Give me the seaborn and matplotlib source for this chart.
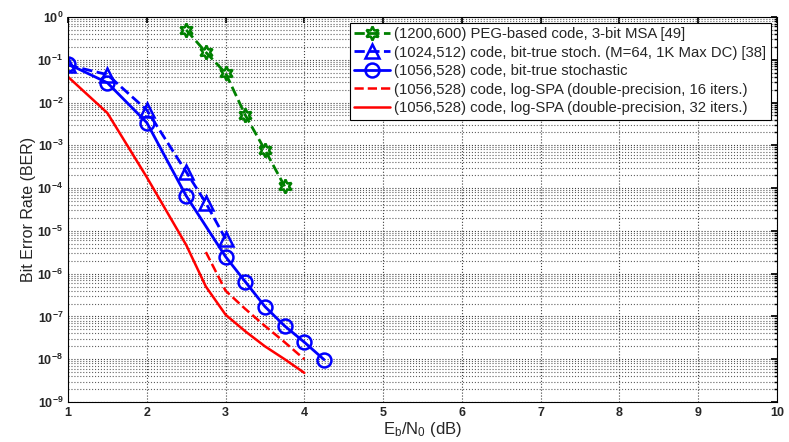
import numpy as np
import pandas as pd
import matplotlib
matplotlib.use("Agg")
import matplotlib.pyplot as plt
import seaborn as sns
from matplotlib.ticker import LogLocator, FixedLocator

# ---- data ----
labels = [
    "(1200,600) PEG-based code, 3-bit MSA [49]",
    "(1024,512) code, bit-true stoch. (M=64, 1K Max DC) [38]",
    "(1056,528) code, bit-true stochastic",
    "(1056,528) code, log-SPA (double-precision, 16 iters.)",
    "(1056,528) code, log-SPA (double-precision, 32 iters.)",
]
peg_x = [2.5, 2.75, 3.0, 3.25, 3.5, 3.75]
peg_y = [0.5, 0.15, 0.049, 5.1e-3, 7.8e-4, 1.1e-4]

tri_x = [1.0, 1.5, 2.0, 2.5, 2.75, 3.0]
tri_y = [0.075, 0.045, 6.7e-3, 2.4e-4, 4.5e-5, 6.5e-6]

circ_x = [1.0, 1.5, 2.0, 2.5, 3.0, 3.25, 3.5, 3.75, 4.0, 4.25]
circ_y = [0.08, 0.029, 3.4e-3, 6.6e-5, 2.5e-6, 6.5e-7, 1.7e-7, 6.0e-8, 2.5e-8, 9.8e-9]

spa16_x = [2.75, 3.0, 3.25, 3.5, 3.75, 4.0]
spa16_y = [3.2e-6, 4.0e-7, 1.5e-7, 6.0e-8, 2.5e-8, 1.0e-8]

spa32_x = [1.0, 1.5, 2.0, 2.5, 2.75, 3.0, 3.25, 3.5, 3.75, 4.0]
spa32_y = [0.04, 5.7e-3, 1.8e-4, 4.7e-6, 5.0e-7, 1.1e-7, 4.5e-8, 2.0e-8, 1.0e-8, 4.8e-9]

xticks = [1, 2, 3, 4, 5, 6, 7, 8, 9, 10]

series = [
    (peg_x, peg_y, dict(color="#008000", ls="--", marker=(6, 1, 0), ms=10, lw=2, mew=1.8)),
    (tri_x, tri_y, dict(color="#0000FF", ls="--", marker="^", ms=10, lw=2, mew=1.8)),
    (circ_x, circ_y, dict(color="#0000FF", ls="-", marker="o", ms=10, lw=2, mew=1.8)),
    (spa16_x, spa16_y, dict(color="#FF0000", ls="--", marker=None, ms=0, lw=1.8, mew=0)),
    (spa32_x, spa32_y, dict(color="#FF0000", ls="-", marker=None, ms=0, lw=1.8, mew=0)),
]

sns.set_theme(style="white")
plt.rcParams["font.family"] = ["Liberation Sans", "DejaVu Sans"]
plt.rcParams["mathtext.fontset"] = "custom"
plt.rcParams["mathtext.rm"] = "Liberation Sans"
plt.rcParams["mathtext.it"] = "Liberation Sans:italic"

fig = plt.figure(figsize=(7.89, 4.42), dpi=100)
ax = fig.add_axes([68 / 789, 1 - 402 / 442, (777 - 68) / 789, (402 - 17) / 442])

for (xs, ys, st), lab in zip(series, labels):
    df = pd.DataFrame({"x": xs, "y": ys})
    sns.lineplot(data=df, x="x", y="y", ax=ax, color=st["color"], linestyle=st["ls"],
                 marker=st["marker"], markersize=st["ms"], linewidth=st["lw"],
                 markeredgewidth=st["mew"], markerfacecolor="none",
                 markeredgecolor=st["color"], label=lab, errorbar=None)

ax.set_yscale("log")
ax.set_xlim(1, 10)
ax.set_ylim(1e-9, 1)
ax.xaxis.set_major_locator(FixedLocator(xticks))
ax.yaxis.set_major_locator(FixedLocator([10.0 ** k for k in range(-9, 1)]))
ax.yaxis.set_minor_locator(LogLocator(base=10, subs=np.arange(2, 10), numticks=100))
ax.grid(True, which="major", axis="both", color="#404040", linestyle=":", linewidth=0.8)
ax.grid(True, which="minor", axis="y", color="#606060", linestyle=":", linewidth=0.8)
ax.tick_params(axis="both", which="both", direction="in", top=True, right=True,
               labelsize=9, length=4, color="black")
ax.tick_params(axis="y", which="minor", length=2)
for s in ax.spines.values():
    s.set_color("black")
    s.set_linewidth(0.8)
for lbl in ax.get_xticklabels() + ax.get_yticklabels():
    lbl.set_fontweight("bold")

ax.set_xlabel(r"E$_\mathrm{b}$/N$_\mathrm{0}$ (dB)", fontsize=12, labelpad=1)
ax.set_ylabel("Bit Error Rate (BER)", fontsize=11.5, labelpad=1)

leg = ax.legend(loc="upper right", bbox_to_anchor=(0.991, 0.985), fontsize=10.7,
                frameon=True, fancybox=False, edgecolor="black", framealpha=1,
                handlelength=2.4, borderpad=0.3, labelspacing=0.3, handletextpad=0.3,
                borderaxespad=0)
leg.get_frame().set_linewidth(0.8)

fig.savefig("out.png", dpi=100)
